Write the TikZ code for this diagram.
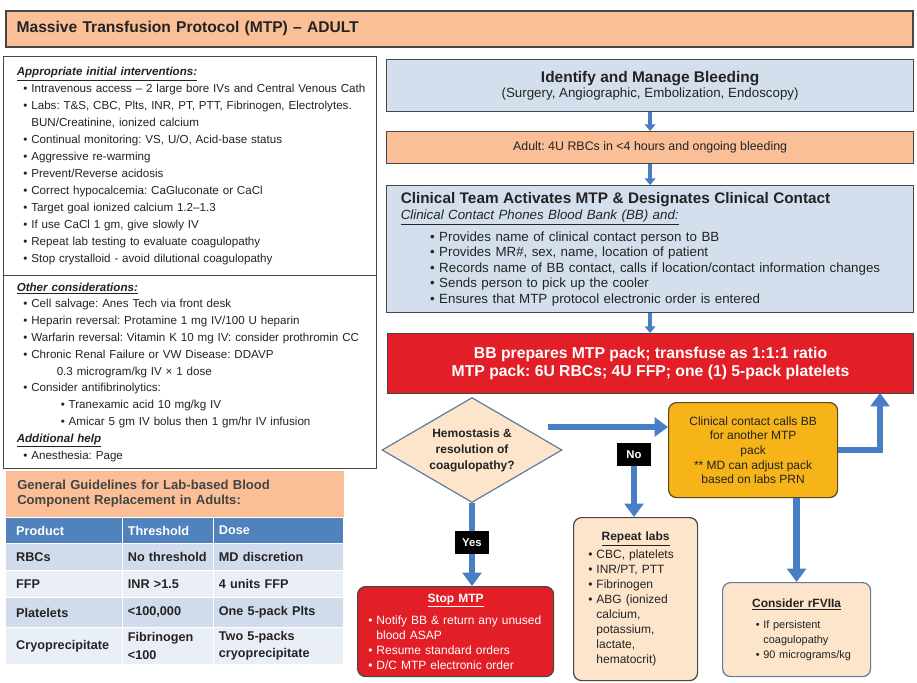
\documentclass[tikz,border=0pt]{standalone}
\usepackage{fontspec}
\setmainfont{Liberation Sans}
\usetikzlibrary{arrows.meta, positioning, shapes.geometric}

\definecolor{salmon}{RGB}{250,191,151}
\definecolor{paleblue}{RGB}{212,223,238}
\definecolor{mtpred}{RGB}{226,30,38}
\definecolor{amber}{RGB}{246,180,24}
\definecolor{umber}{RGB}{92,72,34}
\definecolor{beige}{RGB}{252,229,203}
\definecolor{flowblue}{RGB}{72,126,196}
\definecolor{steel}{RGB}{96,124,160}
\definecolor{boxline}{RGB}{70,70,70}
\definecolor{tblhead}{RGB}{80,130,190}
\definecolor{tbla}{RGB}{208,220,236}
\definecolor{tblb}{RGB}{234,239,247}
\definecolor{ink}{RGB}{35,35,35}

\newcommand{\fsz}[2]{\fontsize{#1}{#2}\selectfont}
\newcommand{\bul}{\textbullet\ }
\frenchspacing

\begin{document}
\begin{tikzpicture}[x=0.75pt, y=-0.75pt,
  box/.style={draw=boxline, line width=0.9pt, anchor=north west, inner ysep=0pt, text=ink},
  rbox/.style={box, rounded corners=6pt},
  cell/.style={anchor=north west, draw=white, line width=0.8pt, inner ysep=0pt, align=left,
    text=ink, font=\bfseries\fsz{9.5}{13}},
  colA/.style={minimum width=87.75pt, text width=71.75pt, inner xsep=8pt},
  colB/.style={minimum width=68.25pt, text width=60.25pt, inner xsep=4pt},
  colC/.style={minimum width=97.5pt, text width=89.5pt, inner xsep=4pt},
  tag/.style={fill=black, text=white, font=\bfseries\fsz{8.5}{10}, minimum width=25.5pt,
    minimum height=17.25pt, inner sep=0pt},
  link/.style={draw=flowblue, line width=3pt, -{Triangle[length=5pt,width=8pt]}},
  flow/.style={draw=flowblue, line width=5pt, -{Triangle[length=10pt,width=14pt]}}]
  \path[use as bounding box, fill=white] (0,0) rectangle (917,682);

  % title bar
  \node[box, fill=salmon, line width=1.2pt, minimum width=680.25pt, minimum height=27pt,
    text width=664pt, align=left, font=\bfseries\fsz{11.7}{13}] (title) at (5,10)
    {Massive Transfusion Protocol (MTP) -- ADULT};

  % left column
  \node[box, minimum width=279.75pt, minimum height=164.25pt, text width=268pt, inner xsep=2pt,
    align=left, font=\fsz{8.7}{12.7}] (initial) at (3,56) {%
    \hspace*{4pt}\underline{\textbf{\textit{Appropriate initial interventions:}}}\\
    \hspace*{9pt}\bul Intravenous access -- 2 large bore IVs and Central Venous Cath\\
    \hspace*{9pt}\bul Labs: T\&S, CBC, Plts, INR, PT, PTT, Fibrinogen, Electrolytes.\\
    \hspace*{9pt}\phantom{\bul}BUN/Creatinine, ionized calcium\\
    \hspace*{9pt}\bul Continual monitoring: VS, U/O, Acid-base status\\
    \hspace*{9pt}\bul Aggressive re-warming\\
    \hspace*{9pt}\bul Prevent/Reverse acidosis\\
    \hspace*{9pt}\bul Correct hypocalcemia: CaGluconate or CaCl\\
    \hspace*{9pt}\bul Target goal ionized calcium 1.2--1.3\\
    \hspace*{9pt}\bul If use CaCl 1 gm, give slowly IV\\
    \hspace*{9pt}\bul Repeat lab testing to evaluate coagulopathy\\
    \hspace*{9pt}\bul Stop crystalloid - avoid dilutional coagulopathy};
  \node[box, minimum width=279.75pt, minimum height=144.75pt, text width=268pt, inner xsep=2pt,
    align=left, font=\fsz{8.7}{12.6}] (other) at (3,275) {%
    \hspace*{4pt}\underline{\textbf{\textit{Other considerations:}}}\\
    \hspace*{9pt}\bul Cell salvage: Anes Tech via front desk\\
    \hspace*{9pt}\bul Heparin reversal: Protamine 1 mg IV/100 U heparin\\
    \hspace*{9pt}\bul Warfarin reversal: Vitamin K 10 mg IV: consider prothromin CC\\
    \hspace*{9pt}\bul Chronic Renal Failure or VW Disease: DDAVP\\
    \hspace*{34pt}0.3 microgram/kg IV × 1 dose\\
    \hspace*{9pt}\bul Consider antifibrinolytics:\\
    \hspace*{37pt}\bul Tranexamic acid 10 mg/kg IV\\
    \hspace*{37pt}\bul Amicar 5 gm IV bolus then 1 gm/hr IV infusion\\
    \hspace*{4pt}\underline{\textbf{\textit{Additional help}}}\\
    \hspace*{9pt}\bul Anesthesia: Page};

  % guideline table
  \node[box, draw=none, fill=salmon, minimum width=253.5pt, minimum height=35.25pt,
    text width=236pt, align=left, font=\bfseries\fsz{9.8}{11.25}, text=ink!85] (guide) at (5,470)
    {General Guidelines for Lab-based Blood\\Component Replacement in Adults:};
  \node[cell, colA, fill=tblhead, text=white, minimum height=19.5pt] (hprod) at (5,517) {Product};
  \node[cell, colB, fill=tblhead, text=white, minimum height=19.5pt] (hthr) at (122,517) {Threshold};
  \node[cell, colC, fill=tblhead, text=white, minimum height=19.5pt] (hdose) at (213,517) {Dose};
  \node[cell, colA, fill=tbla, minimum height=20.25pt] (rbcA) at (5,543) {RBCs};
  \node[cell, colB, fill=tbla, minimum height=20.25pt] (rbcB) at (122,543) {No threshold};
  \node[cell, colC, fill=tbla, minimum height=20.25pt] (rbcC) at (213,543) {MD discretion};
  \node[cell, colA, fill=tblb, minimum height=20.25pt] (ffpA) at (5,570) {FFP};
  \node[cell, colB, fill=tblb, minimum height=20.25pt] (ffpB) at (122,570) {INR >1.5};
  \node[cell, colC, fill=tblb, minimum height=20.25pt] (ffpC) at (213,570) {4 units FFP};
  \node[cell, colA, fill=tbla, minimum height=22.5pt] (pltA) at (5,597) {Platelets};
  \node[cell, colB, fill=tbla, minimum height=22.5pt] (pltB) at (122,597) {<100,000};
  \node[cell, colC, fill=tbla, minimum height=22.5pt] (pltC) at (213,597) {One 5-pack Plts};
  \node[cell, colA, fill=tblb, minimum height=27.75pt] (cryoA) at (5,627) {Cryoprecipitate};
  \node[cell, colB, fill=tblb, minimum height=27.75pt] (cryoB) at (122,627) {Fibrinogen\\<100};
  \node[cell, colC, fill=tblb, minimum height=27.75pt] (cryoC) at (213,627) {Two 5-packs\\cryoprecipitate};

  % right column
  \node[box, fill=paleblue, minimum width=395.25pt, minimum height=39pt, align=center,
    font=\fsz{10}{11.25}] (identify) at (386,59)
    {{\bfseries\fsz{11.6}{11.25}Identify and Manage Bleeding}\\(Surgery, Angiographic, Embolization, Endoscopy)};
  \node[box, fill=salmon, minimum width=395.25pt, minimum height=24pt, font=\fsz{9.3}{11}] (adult)
    at (386,131) {Adult: 4U RBCs in <4 hours and ongoing bleeding};
  \node[box, fill=paleblue, minimum width=395.25pt, minimum height=95.25pt, text width=374pt,
    align=left, font=\fsz{10}{11.6}] (clinical) at (386,185) {%
    {\bfseries\fsz{11.5}{11.6}Clinical Team Activates MTP \& Designates Clinical Contact}\\[0.5pt]
    \underline{\textit{Clinical Contact Phones Blood Bank (BB) and:}}\\[5pt]
    \hspace*{22pt}\bul Provides name of clinical contact person to BB\\
    \hspace*{22pt}\bul Provides MR\#, sex, name, location of patient\\
    \hspace*{22pt}\bul Records name of BB contact, calls if location/contact information changes\\
    \hspace*{22pt}\bul Sends person to pick up the cooler\\
    \hspace*{22pt}\bul Ensures that MTP protocol electronic order is entered};
  \node[box, fill=mtpred, minimum width=394.5pt, minimum height=45pt, align=center, text=white,
    font=\bfseries\fsz{11.8}{13.5}] (bbprep) at (387,333)
    {BB prepares MTP pack; transfuse as 1:1:1 ratio\\MTP pack: 6U RBCs; 4U FFP; one (1) 5-pack platelets};

  % decision
  \node[diamond, aspect=2, draw=steel, line width=0.9pt, fill=beige, minimum width=135pt,
    minimum height=78.75pt, inner sep=0pt, align=center, text=ink, font=\bfseries\fsz{9}{12}] (dia)
    at (472,450) {Hemostasis \&\\resolution of\\coagulopathy?};
  \node[rbox, draw=umber, fill=amber, minimum width=126.75pt, minimum height=71.25pt, align=center,
    font=\fsz{9}{11}] (calls) at (668,402)
    {Clinical contact calls BB\\for another MTP\\pack\\** MD can adjust pack\\based on labs PRN};
  \node[tag] (no) at (634,454.5) {No};

  % outcomes
  \node[rbox, fill=beige, minimum width=93pt, minimum height=122.25pt, text width=71pt, align=left,
    font=\fsz{9}{11.2}] (labs) at (573,517) {%
    \makebox[\linewidth]{\bfseries\underline{Repeat labs}}\\[2.3pt]
    \bul CBC, platelets\\
    \bul INR/PT, PTT\\
    \bul Fibrinogen\\
    \bul ABG (ionized\\
    \phantom{\bul}calcium,\\
    \phantom{\bul}potassium,\\
    \phantom{\bul}lactate,\\
    \phantom{\bul}hematocrit)};
  \node[rbox, fill=mtpred, text=white, minimum width=147pt, minimum height=67.5pt, text width=131pt,
    align=left, font=\fsz{9}{11.25}] (stop) at (357,586) {%
    \makebox[\linewidth]{\bfseries\underline{Stop MTP}}\\[5pt]
    \bul Notify BB \& return any unused\\
    \phantom{\bul}blood ASAP\\
    \bul Resume standard orders\\
    \bul D/C MTP electronic order};
  \node[rbox, draw=steel, fill=beige, minimum width=111pt, minimum height=70.5pt, text width=99pt,
    align=left, font=\fsz{8.2}{11.25}] (rfviia) at (722,582) {%
    \makebox[\linewidth]{\bfseries\fsz{9}{11.25}\underline{Consider rFVIIa}}\\[4.5pt]
    \hspace*{19pt}\bul If persistent\\
    \hspace*{19pt}\phantom{\bul}coagulopathy\\
    \hspace*{19pt}\bul 90 micrograms/kg};

  % arrows
  \coordinate (yesno) at (548,427);
  \coordinate (back) at (880,393);
  \draw[link] (identify.south) -- (identify.south |- adult.north);
  \draw[link] (adult.south) -- (adult.south |- clinical.north);
  \draw[link] (clinical.south) -- (clinical.south |- bbprep.north);
  \draw[flow] (yesno) -- (yesno -| calls.west);
  \draw[flow] (no) -- (no |- labs.north);
  \draw[flow] (dia) -- (dia |- stop.north);
  \draw[flow] (calls.east) -| (back);
  \draw[flow] (calls.south -| rfviia.north) -- (rfviia.north);
  \node[tag] (yes) at (472,542.5) {Yes};
\end{tikzpicture}
\end{document}
